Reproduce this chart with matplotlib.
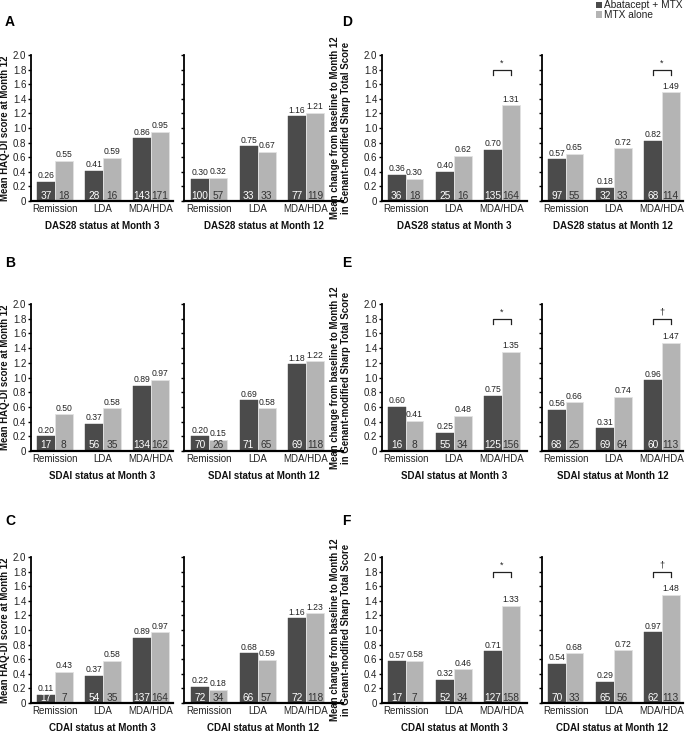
import matplotlib
matplotlib.use("Agg")
import matplotlib.pyplot as plt
from matplotlib.patches import Rectangle

plt.rcParams['font.family'] = ['Liberation Sans', 'DejaVu Sans']

categories = ["Remission", "LDA", "MDA/HDA"]
series_names = ["Abatacept + MTX", "MTX alone"]
dark_color = "#4b4b4b"
light_color = "#b4b4b4"

# HAQ-DI panels (A, B, C)
A_m3_abt = [0.26, 0.41, 0.86]; A_m3_mtx = [0.55, 0.59, 0.95]
A_m3_n_abt = [37, 28, 143];    A_m3_n_mtx = [18, 16, 171]
A_m12_abt = [0.30, 0.75, 1.16]; A_m12_mtx = [0.32, 0.67, 1.21]
A_m12_n_abt = [100, 33, 77];    A_m12_n_mtx = [57, 33, 119]

B_m3_abt = [0.20, 0.37, 0.89]; B_m3_mtx = [0.50, 0.58, 0.97]
B_m3_n_abt = [17, 56, 134];    B_m3_n_mtx = [8, 35, 162]
B_m12_abt = [0.20, 0.69, 1.18]; B_m12_mtx = [0.15, 0.58, 1.22]
B_m12_n_abt = [70, 71, 69];     B_m12_n_mtx = [26, 65, 118]

C_m3_abt = [0.11, 0.37, 0.89]; C_m3_mtx = [0.43, 0.58, 0.97]
C_m3_n_abt = [17, 54, 137];    C_m3_n_mtx = [7, 35, 164]
C_m12_abt = [0.22, 0.68, 1.16]; C_m12_mtx = [0.18, 0.59, 1.23]
C_m12_n_abt = [72, 66, 72];     C_m12_n_mtx = [34, 57, 118]

# mTSS panels (D, E, F)
D_m3_abt = [0.36, 0.40, 0.70]; D_m3_mtx = [0.30, 0.62, 1.31]
D_m3_n_abt = [36, 25, 135];    D_m3_n_mtx = [18, 16, 164]
D_m12_abt = [0.57, 0.18, 0.82]; D_m12_mtx = [0.65, 0.72, 1.49]
D_m12_n_abt = [97, 32, 68];     D_m12_n_mtx = [55, 33, 114]

E_m3_abt = [0.60, 0.25, 0.75]; E_m3_mtx = [0.41, 0.48, 1.35]
E_m3_n_abt = [16, 55, 125];    E_m3_n_mtx = [8, 34, 156]
E_m12_abt = [0.56, 0.31, 0.96]; E_m12_mtx = [0.66, 0.74, 1.47]
E_m12_n_abt = [68, 69, 60];     E_m12_n_mtx = [25, 64, 113]

F_m3_abt = [0.57, 0.32, 0.71]; F_m3_mtx = [0.58, 0.46, 1.33]
F_m3_n_abt = [17, 52, 127];    F_m3_n_mtx = [7, 34, 158]
F_m12_abt = [0.54, 0.29, 0.97]; F_m12_mtx = [0.68, 0.72, 1.48]
F_m12_n_abt = [70, 65, 62];     F_m12_n_mtx = [33, 56, 113]

sig_D = ["*", "*"]
sig_E = ["*", "\u2020"]
sig_F = ["*", "\u2020"]

yticks = [0, 0.2, 0.4, 0.6, 0.8, 1.0, 1.2, 1.4, 1.6, 1.8, 2.0]
yticklabels = ["0", "0.2", "0.4", "0.6", "0.8", "1.0", "1.2", "1.4", "1.6", "1.8", "2.0"]

W, H = 685, 732
fig = plt.figure(figsize=(W / 100, H / 100), dpi=100)

TICK_FS = 7.0
VAL_FS = 6.2
N_FS = 7.3
TITLE_FS = 7.0
YLAB_FS = 6.9


def add_ax(x0, x1, y0, y1):
    return fig.add_axes([x0 / W, 1 - y1 / H, (x1 - x0) / W, (y1 - y0) / H])


def draw(ax, abt, mtx, n_abt, n_mtx, title, xlim, show_ylabels, sig=None):
    bw = 0.37
    x = list(range(len(categories)))
    xd = [i - bw / 2 for i in x]
    xl = [i + bw / 2 for i in x]
    ax.bar(xd, abt, width=bw, color=dark_color, edgecolor=dark_color, linewidth=0.3, zorder=2)
    ax.bar(xl, mtx, width=bw, color=light_color, edgecolor="#e2e2e2", linewidth=0.6, zorder=2)
    for xi, v, n in zip(xd, abt, n_abt):
        ax.annotate(f"{v:.2f}", (xi, v), xytext=(0, 1.2), textcoords="offset points",
                    ha="center", va="bottom", fontsize=VAL_FS, color="#222222")
        ax.text(xi, 0.075, str(n), ha="center", va="center", fontsize=N_FS, color="white", zorder=3)
    for xi, v, n in zip(xl, mtx, n_mtx):
        ax.annotate(f"{v:.2f}", (xi, v), xytext=(0, 1.2), textcoords="offset points",
                    ha="center", va="bottom", fontsize=VAL_FS, color="#222222")
        ax.text(xi, 0.075, str(n), ha="center", va="center", fontsize=N_FS, color="#333333", zorder=3)
    if sig is not None:
        x0, x1 = xd[2], xl[2]
        ax.plot([x0, x0, x1, x1], [1.73, 1.79, 1.79, 1.73], color="#222222", lw=0.9, clip_on=False)
        ax.text((x0 + x1) / 2, 1.83, sig, ha="center", va="bottom", fontsize=6.5, color="#222222")
    ax.set_xlim(*xlim)
    ax.set_ylim(0, 2.0)
    ax.set_xticks(x)
    ax.set_xticklabels(categories, fontsize=TICK_FS, color="#222222")
    ax.tick_params(axis="x", length=0, pad=2.5)
    ax.set_yticks(yticks)
    if show_ylabels:
        ax.set_yticklabels(yticklabels, fontsize=TICK_FS, color="#222222")
    else:
        ax.set_yticklabels([])
    ax.tick_params(axis="y", direction="out", length=2.5, width=1.0, pad=0.8)
    for s in ["top", "right"]:
        ax.spines[s].set_visible(False)
    ax.spines["left"].set_linewidth(1.3)
    ax.spines["bottom"].set_linewidth(1.6)
    ax.annotate(title, xy=(0.5, 0), xycoords="axes fraction", xytext=(0, -18),
                textcoords="offset points", ha="center", va="center",
                fontsize=TITLE_FS, fontweight="bold", color="#111111")


rows = [(55, 201), (304, 451), (557, 703)]
left_data = [
    ("DAS28", A_m3_abt, A_m3_mtx, A_m3_n_abt, A_m3_n_mtx, A_m12_abt, A_m12_mtx, A_m12_n_abt, A_m12_n_mtx),
    ("SDAI", B_m3_abt, B_m3_mtx, B_m3_n_abt, B_m3_n_mtx, B_m12_abt, B_m12_mtx, B_m12_n_abt, B_m12_n_mtx),
    ("CDAI", C_m3_abt, C_m3_mtx, C_m3_n_abt, C_m3_n_mtx, C_m12_abt, C_m12_mtx, C_m12_n_abt, C_m12_n_mtx),
]
right_data = [
    ("DAS28", D_m3_abt, D_m3_mtx, D_m3_n_abt, D_m3_n_mtx, D_m12_abt, D_m12_mtx, D_m12_n_abt, D_m12_n_mtx, sig_D),
    ("SDAI", E_m3_abt, E_m3_mtx, E_m3_n_abt, E_m3_n_mtx, E_m12_abt, E_m12_mtx, E_m12_n_abt, E_m12_n_mtx, sig_E),
    ("CDAI", F_m3_abt, F_m3_mtx, F_m3_n_abt, F_m3_n_mtx, F_m12_abt, F_m12_mtx, F_m12_n_abt, F_m12_n_mtx, sig_F),
]
letters_left = ["A", "B", "C"]
letters_right = ["D", "E", "F"]
letter_y = [22, 263, 521]

for r, (y0, y1) in enumerate(rows):
    name, a3, m3, na3, nm3, a12, m12, na12, nm12 = left_data[r]
    ax1 = add_ax(31, 173, y0, y1)
    draw(ax1, a3, m3, na3, nm3, f"{name} status at Month 3", (-0.5, 2.46), True)
    ax1.set_ylabel("Mean HAQ-DI score at Month 12", fontsize=YLAB_FS, fontweight="bold",
                   color="#111111")
    ax1.yaxis.set_label_coords(-0.15, 0.5)
    ax2 = add_ax(184, 343, y0, y1)
    draw(ax2, a12, m12, na12, nm12, f"{name} status at Month 12", (-0.515, 2.76), False)

    name, a3, m3, na3, nm3, a12, m12, na12, nm12, sig = right_data[r]
    ax3 = add_ax(382, 527, y0, y1)
    draw(ax3, a3, m3, na3, nm3, f"{name} status at Month 3", (-0.49, 2.52), True, sig[0])
    ax3.set_ylabel("Mean change from baseline to Month 12\nin Genant-modified Sharp Total Score",
                   fontsize=YLAB_FS, fontweight="bold", color="#111111", linespacing=1.15)
    ax3.yaxis.set_label_coords(-0.215, 0.5)
    ax4 = add_ax(542, 683, y0, y1)
    draw(ax4, a12, m12, na12, nm12, f"{name} status at Month 12", (-0.49, 2.44), False, sig[1])

    fig.text(5 / W, 1 - letter_y[r] / H, letters_left[r], fontsize=10, fontweight="bold",
             ha="left", va="center")
    fig.text(342 / W, 1 - letter_y[r] / H, letters_right[r], fontsize=10, fontweight="bold",
             ha="left", va="center")

# legend
for i, (lab, col) in enumerate(zip(series_names, [dark_color, light_color])):
    yc = 5 + i * 9.5
    fig.add_artist(Rectangle((596 / W, 1 - (yc + 3.2) / H), 6.4 / W, 6.4 / H,
                             transform=fig.transFigure, facecolor=col, edgecolor="none"))
    fig.text(603.5 / W, 1 - yc / H, lab, fontsize=7.3, ha="left", va="center", color="#222222")

fig.savefig("out.png", dpi=100)
